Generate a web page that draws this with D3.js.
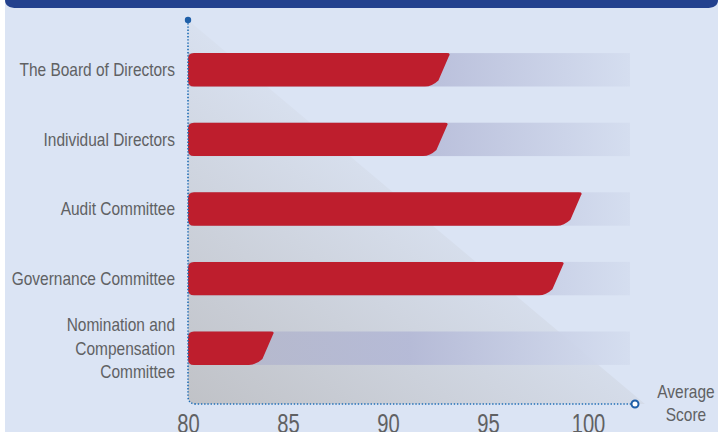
<!DOCTYPE html>
<html>
	<head>
		<meta http-equiv="Content-Type" content="text/html;charset=utf-8"/>
		<title>Average Score</title>
		<script src="https://d3js.org/d3.v7.min.js"></script>
		<style type="text/css">
			body { margin: 0; background: #ffffff; }
			text {
				font-family: "Liberation Sans", Arial, sans-serif;
				fill: #606163;
			}
			.cat { font-size: 18px; }
			.tick text { font-size: 28px; fill: #606163; }
			.bar { fill: #be1e2d; }
		</style>
	</head>
	<body>
		<script type="text/javascript">

			//Chart data
			var categories = ["The Board of Directors", "Individual Directors", "Audit Committee",
				"Governance Committee", "Nomination and Compensation Committee"];
			var labelLines = [["The Board of Directors"], ["Individual Directors"], ["Audit Committee"],
				["Governance Committee"], ["Nomination and", "Compensation", "Committee"]];
			var scores = [93.1, 93.0, 99.7, 98.8, 84.3];
			var tickValues = [80, 85, 90, 95, 100];
			var axisTitle = ["Average", "Score"];

			var w = 724,
				h = 432,
				squeeze = 0.86;

			var svg = d3.select("body").append("svg")
				.attr("width", w)
				.attr("height", h);

			var defs = svg.append("defs");

			//Triangle shadow gradient
			var tg = defs.append("linearGradient")
				.attr("id", "triGrad")
				.attr("x1", "0").attr("y1", "1")
				.attr("x2", "0.55").attr("y2", "0.35");
			tg.append("stop").attr("offset", "0").attr("stop-color", "#c0c2c7");
			tg.append("stop").attr("offset", "1").attr("stop-color", "#dbe4f4");

			//Track gradient
			var bg = defs.append("linearGradient")
				.attr("id", "trackGrad")
				.attr("x1", "0").attr("y1", "0")
				.attr("x2", "1").attr("y2", "0");
			bg.append("stop").attr("offset", "0").attr("stop-color", "#b4b7c9").attr("stop-opacity", 0.9);
			bg.append("stop").attr("offset", "0.5").attr("stop-color", "#b3b8d6").attr("stop-opacity", 0.9);
			bg.append("stop").attr("offset", "1").attr("stop-color", "#d4ddef").attr("stop-opacity", 0.9);

			//Panel background
			svg.append("rect")
				.attr("x", 5).attr("y", 0)
				.attr("width", 713).attr("height", h)
				.attr("fill", "#dbe4f4");

			//Top banner
			svg.append("path")
				.attr("d", "M5,0 H718 Q718,8 706,8 H17 Q5,8 5,0 Z")
				.attr("fill", "#23418e");

			//Scales
			var x = d3.scaleLinear()
				.domain([80, 100])
				.range([188, 588]);

			var y = d3.scaleBand()
				.domain(categories)
				.range([35, 383])
				.paddingInner(0.52)
				.paddingOuter(0.26);

			var x0 = x(80),
				axisTop = 20,
				axisY = 404;

			//Shadow triangle
			svg.append("path")
				.attr("d", "M" + x0 + "," + axisTop + " L" + (x0 + (axisY - axisTop) * 1.19) + "," + axisY +
					" L" + (x0 + 8) + "," + axisY + " Q" + x0 + "," + axisY + " " + x0 + "," + (axisY - 8) + " Z")
				.attr("fill", "url(#triGrad)");

			//Tracks
			svg.selectAll("rect.track")
				.data(categories)
				.enter()
				.append("rect")
				.attr("class", "track")
				.attr("x", x0)
				.attr("y", function(d) { return y(d); })
				.attr("width", x(102.1) - x0)
				.attr("height", y.bandwidth())
				.attr("fill", "url(#trackGrad)");

			//Bars with slanted ends
			function barPath(v, top, bh) {
				var r = 6,
					xt = x(v),
					slant = 19,
					xb = xt - slant,
					bot = top + bh,
					dx = slant / bh;
				return "M" + (x0 + r) + "," + top +
					" H" + (xt - 3) +
					" Q" + (xt + 1) + "," + top + " " + (xt - 1) + "," + (top + 3) +
					" L" + (xb + 6 * dx + 4) + "," + (bot - 6) +
					" Q" + (xb + 1) + "," + bot + " " + (xb - 6) + "," + bot +
					" H" + (x0 + r) +
					" Q" + x0 + "," + bot + " " + x0 + "," + (bot - r) +
					" V" + (top + r) +
					" Q" + x0 + "," + top + " " + (x0 + r) + "," + top + " Z";
			}

			svg.selectAll("path.bar")
				.data(categories)
				.enter()
				.append("path")
				.attr("class", "bar")
				.attr("d", function(d, i) {
					return barPath(scores[i], y(d), y.bandwidth());
				});

			//Category labels (condensed by horizontal squeeze)
			var labels = svg.selectAll("text.cat")
				.data(categories)
				.enter()
				.append("text")
				.attr("class", "cat")
				.attr("text-anchor", "end")
				.attr("transform", function(d) {
					return "translate(175," + (y(d) + y.bandwidth() / 2) + ") scale(" + squeeze + ",1)";
				});

			labels.each(function(d, i) {
				var lines = labelLines[i],
					n = lines.length;
				d3.select(this).selectAll("tspan")
					.data(lines)
					.enter()
					.append("tspan")
					.attr("x", 0)
					.attr("dy", function(l, j) { return j === 0 ? (0.35 - (n - 1) * 0.66) + "em" : "1.32em"; })
					.text(function(l) { return l; });
			});

			//Dotted axis lines
			svg.append("path")
				.attr("d", "M" + x0 + "," + axisTop + " V" + (axisY - 8) +
					" Q" + x0 + "," + axisY + " " + (x0 + 8) + "," + axisY +
					" H" + (x(102.35) - 4))
				.attr("fill", "none")
				.attr("stroke", "#1f6db5")
				.attr("stroke-width", 1.6)
				.attr("stroke-dasharray", "1.4,1.8");

			svg.append("circle")
				.attr("cx", x0).attr("cy", axisTop)
				.attr("r", 3.2)
				.attr("fill", "#1f5fa8");

			svg.append("circle")
				.attr("cx", x(102.35)).attr("cy", axisY)
				.attr("r", 3.5)
				.attr("fill", "#ffffff")
				.attr("stroke", "#1f5fa8")
				.attr("stroke-width", 2);

			//Tick labels
			var axis = svg.append("g")
				.attr("transform", "translate(0,433)")
				.call(d3.axisBottom(x).tickValues(tickValues).tickSize(0).tickPadding(0));
			axis.select(".domain").remove();
			axis.selectAll(".tick text")
				.attr("y", 0)
				.attr("dy", 0)
				.attr("font-family", null)
				.attr("font-size", null)
				.attr("fill", null)
				.attr("transform", "scale(0.72,1)");

			//Axis title
			svg.selectAll("text.title")
				.data(axisTitle)
				.enter()
				.append("text")
				.attr("class", "cat title")
				.attr("text-anchor", "middle")
				.attr("transform", function(d, i) {
					return "translate(686," + (398 + i * 23) + ") scale(" + squeeze + ",1)";
				})
				.text(function(d) { return d; });

		</script>
	</body>
</html>
